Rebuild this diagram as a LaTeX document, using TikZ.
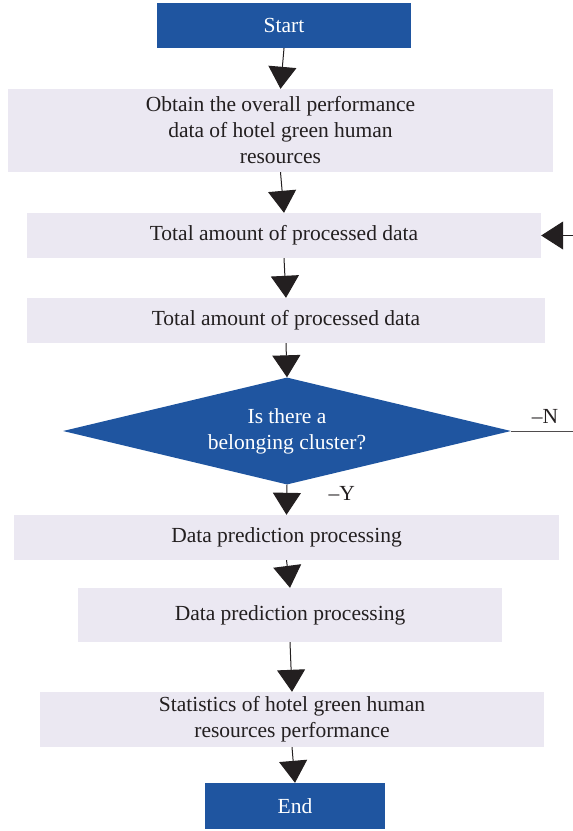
\documentclass[tikz,border=0pt]{standalone}
\usepackage{fontspec}
\setmainfont{Liberation Serif}
\usetikzlibrary{shapes.geometric,arrows.meta}
\definecolor{flowblue}{HTML}{1F55A0}
\definecolor{flowgrey}{HTML}{EBE8F2}
\definecolor{flowink}{HTML}{231F20}

\begin{document}
\begin{tikzpicture}[x=1pt,y=-1pt,
    font=\fontsize{21.5}{26}\selectfont,
    terminal/.style={fill=flowblue, text=white, inner sep=0pt},
    procbox/.style={fill=flowgrey, text=flowink, inner sep=0pt, align=center},
    decision/.style={diamond, fill=flowblue, text=white, inner sep=0pt, aspect=4.18, align=center},
    flow/.style={draw=flowink, line width=1pt, -{Triangle[width=28pt,length=22pt]}},
    branch/.style={draw=flowink!80, line width=1pt}]

    \useasboundingbox (0,0) rectangle (573,831);

    \node[terminal, minimum width=254pt, minimum height=45pt] (start) at (284,25.5) {Start};
    \node[procbox, minimum width=545pt, minimum height=83pt] (obtain) at (280.5,130.5)
        {Obtain the overall performance\\data of hotel green human\\resources};
    \node[procbox, minimum width=514pt, minimum height=45pt] (total1) at (284,235.5) {Total amount of processed data};
    \node[procbox, minimum width=518pt, minimum height=45pt] (total2) at (286,320.5) {Total amount of processed data};
    \node[decision, minimum width=448pt, minimum height=107pt] (cluster) at (287,431) {Is there a\\belonging cluster?};
    \node[procbox, minimum width=545pt, minimum height=45pt] (pred1) at (286.5,537.5) {Data prediction processing};
    \node[procbox, minimum width=424pt, minimum height=54pt] (pred2) at (290,615) {Data prediction processing};
    \node[procbox, minimum width=504pt, minimum height=55pt] (stats) at (292,719.5)
        {Statistics of hotel green human\\resources performance};
    \node[terminal, minimum width=180pt, minimum height=46pt] (end) at (295,806) {End};

    \coordinate (noexit) at (573,431);
    \coordinate (loopin) at (573,235.5);

    \draw[flow] (start.south) -- (obtain.north);
    \draw[flow] (obtain.south) -- (total1.north);
    \draw[flow] (total1.south) -- (total2.north);
    \draw[flow] (total2.south) -- (cluster.north);
    \draw[flow] (cluster.south) -- (pred1.north)
        node[pos=0.3, right=38pt, text=flowink] (yes) {–Y};
    \draw[flow] (pred1.south) -- (pred2.north);
    \draw[flow] (pred2.south) -- (stats.north);
    \draw[flow] (stats.south) -- (end.north);

    \draw[branch] (cluster.east) -- (noexit)
        node[midway, above=4pt, xshift=3pt, text=flowink] (no) {–N};
    \draw[flow] (loopin) -- (total1.east);
    %
\end{tikzpicture}
\end{document}
